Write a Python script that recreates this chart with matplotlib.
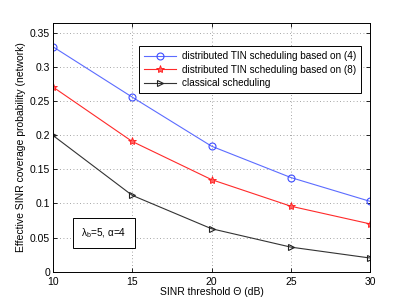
import numpy as np
import matplotlib.pyplot as plt

plt.rcParams['font.family'] = ['Liberation Sans', 'DejaVu Sans']
plt.rcParams['mathtext.fontset'] = 'custom'
plt.rcParams['mathtext.rm'] = 'Liberation Sans'
plt.rcParams['mathtext.it'] = 'Liberation Sans'

# data
theta = [10, 15, 20, 25, 30]
tin_eq4 = [0.330, 0.256, 0.184, 0.138, 0.103]
tin_eq8 = [0.271, 0.191, 0.135, 0.096, 0.070]
classical = [0.200, 0.112, 0.063, 0.036, 0.020]

fig = plt.figure(figsize=(4.09, 3.07), dpi=100)
ax = fig.add_axes([0.1289, 0.115, 0.7765, 0.811])

ax.plot(theta, tin_eq4, color='#5c6cff', lw=0.8, marker='o', ms=5,
        mfc='none', mec='#3d4dff', mew=0.8, label='distributed TIN scheduling based on (4)')
ax.plot(theta, tin_eq8, color='#ff2a2a', lw=0.8, marker='*', ms=6,
        mfc='#ff6060', mec='#ff1a1a', mew=0.6, label='distributed TIN scheduling based on (8)')
ax.plot(theta, classical, color='#333333', lw=0.8, marker='>', ms=5,
        mfc='none', mec='#222222', mew=0.8, label='classical scheduling')

ax.set_xlim(10, 30)
ax.set_ylim(0, 0.365)
ax.set_xticks([10, 15, 20, 25, 30])
ax.set_yticks([0, 0.05, 0.1, 0.15, 0.2, 0.25, 0.3, 0.35])
ax.set_yticklabels(['0', '0.05', '0.1', '0.15', '0.2', '0.25', '0.3', '0.35'])
ax.tick_params(labelsize=7.5, direction='in', length=3, width=0.6,
               top=True, right=True)
ax.tick_params(axis='y', pad=2)
ax.tick_params(axis='x', pad=3.5)
ax.grid(True, ls=(0, (1, 3)), color='#888888', lw=0.6)
for s in ax.spines.values():
    s.set_linewidth(0.7)

ax.set_xlabel('SINR threshold Θ (dB)', fontsize=7.5, labelpad=0)
ax.set_ylabel('Effective SINR coverage probability (network)', fontsize=7.5, labelpad=3)

leg = ax.legend(loc='upper left', bbox_to_anchor=(0.272, 0.906), fontsize=7.2,
                fancybox=False, framealpha=1, edgecolor='black', borderaxespad=0,
                handlelength=3.2, handletextpad=0.6, borderpad=0.5, labelspacing=0.35)
leg.get_frame().set_linewidth(0.7)

ax.text(0.09, 0.155, r'$\mathregular{\lambda_b}$=5, α=4', transform=ax.transAxes,
        fontsize=7.2, va='center', ha='left',
        bbox=dict(boxstyle='square,pad=0.85', fc='white', ec='black', lw=0.7))

fig.savefig('out.png', dpi=100)
